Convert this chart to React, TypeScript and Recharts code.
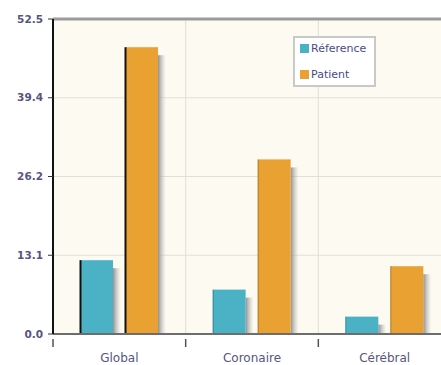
import { BarChart, Bar, XAxis, YAxis, CartesianGrid, ReferenceLine } from "recharts";

// values
const categories = ["Global", "Coronaire", "Cérébral"];
const reference = [12.3, 7.4, 2.9];
const patient = [47.8, 29.1, 11.3];
const yTicks = [0, 13.125, 26.25, 39.375, 52.5];
const yTickLabels = ["0.0", "13.1", "26.2", "39.4", "52.5"];
const seriesNames = ["Réference", "Patient"];

const data = categories.map((c, i) => ({ name: c, ref: reference[i], pat: patient[i] }));

const TEAL = "#4bb2c6";
const ORANGE = "#e9a232";
const LABEL = "#55557f";
const FONT = "'DejaVu Sans', sans-serif";
const BAND = 398 / 3; // plot width / categories

// bar with a soft drop shadow on its right side
function ShadowBar(props: any) {
  const { x, y, width, height, fill, index } = props;
  if (!height || height <= 0) return null;
  const sy = Math.min(y + 8, y + height);
  return (
    <g>
      <rect x={x + width} y={sy} width={8} height={y + height - sy} fill="url(#shadowGrad)" />
      <rect x={x} y={y} width={width} height={height} fill={fill} />
      <line
        x1={x + 0.5}
        x2={x + 0.5}
        y1={y}
        y2={y + height}
        stroke={index === 0 ? "#111" : "rgba(0,0,0,0.25)"}
        strokeWidth={index === 0 ? 2 : 1}
      />
    </g>
  );
}

// category label plus a small tick at the left edge of the band
function XTick(props: any) {
  const { x, y, payload } = props;
  const bx = x - BAND / 2;
  return (
    <g>
      <line x1={bx} x2={bx} y1={y - 1} y2={y + 7} stroke="#555" strokeWidth={1.5} />
      <text x={x} y={y + 22} textAnchor="middle" fill={LABEL} fontSize={12} fontFamily={FONT}>
        {payload.value}
      </text>
    </g>
  );
}

function LegendBox() {
  const colors = [TEAL, ORANGE];
  return (
    <div
      style={{
        position: "absolute",
        left: 293,
        top: 36,
        background: "#fff",
        border: "2px solid #c9c9c9",
        width: 79,
        height: 47,
        fontFamily: FONT,
        fontSize: 11,
        color: "#4a4a86",
        whiteSpace: "nowrap",
      }}
    >
      {seriesNames.map((label, i) => (
        <div key={label} style={{ display: "flex", alignItems: "center", height: 13, marginTop: i === 0 ? 4 : 13, paddingLeft: 5 }}>
          <span style={{ width: 9, height: 9, background: colors[i], display: "inline-block", marginRight: 2, flex: "none" }} />
          <span>{label}</span>
        </div>
      ))}
    </div>
  );
}

export default function App() {
  return (
    <div style={{ position: "absolute", left: 0, top: 0, width: 441, height: 365, overflow: "hidden", background: "#fff" }}>
      <BarChart
        width={460}
        height={365}
        data={data}
        margin={{ top: 19, right: 9, bottom: 0, left: 0 }}
        barCategoryGap={28}
        barGap={12}
      >
        <defs>
          <linearGradient id="shadowGrad" x1="0" x2="1" y1="0" y2="0">
            <stop offset="0%" stopColor="#8a8a8a" stopOpacity={0.95} />
            <stop offset="100%" stopColor="#c0c0c0" stopOpacity={0} />
          </linearGradient>
        </defs>
        <CartesianGrid
          fill="#fdfaf1"
          stroke="#e2dfd6"
          verticalCoordinatesGenerator={({ offset }: any) => [
            offset.left + offset.width / 3,
            offset.left + (2 * offset.width) / 3,
          ]}
        />
        <XAxis
          dataKey="name"
          height={31}
          axisLine={{ stroke: "#6d6d6d", strokeWidth: 2 }}
          tickLine={false}
          tick={XTick}
          tickMargin={0}
        />
        <YAxis
          width={53}
          domain={[0, 52.5]}
          ticks={yTicks}
          interval={0}
          axisLine={{ stroke: "#111", strokeWidth: 2 }}
          tickLine={{ stroke: "#333" }}
          tickSize={5}
          tickMargin={5}
          tickFormatter={(v: number) => yTickLabels[yTicks.indexOf(v)]}
          tick={{ fill: LABEL, fontSize: 10.5, fontWeight: "bold", fontFamily: FONT }}
        />
        <ReferenceLine y={52.5} stroke="#9b9b9b" strokeWidth={3} />
        <Bar dataKey="ref" name={seriesNames[0]} fill={TEAL} barSize={33} shape={ShadowBar} isAnimationActive={false} />
        <Bar dataKey="pat" name={seriesNames[1]} fill={ORANGE} barSize={33} shape={ShadowBar} isAnimationActive={false} />
      </BarChart>
      <LegendBox />
    </div>
  );
}
